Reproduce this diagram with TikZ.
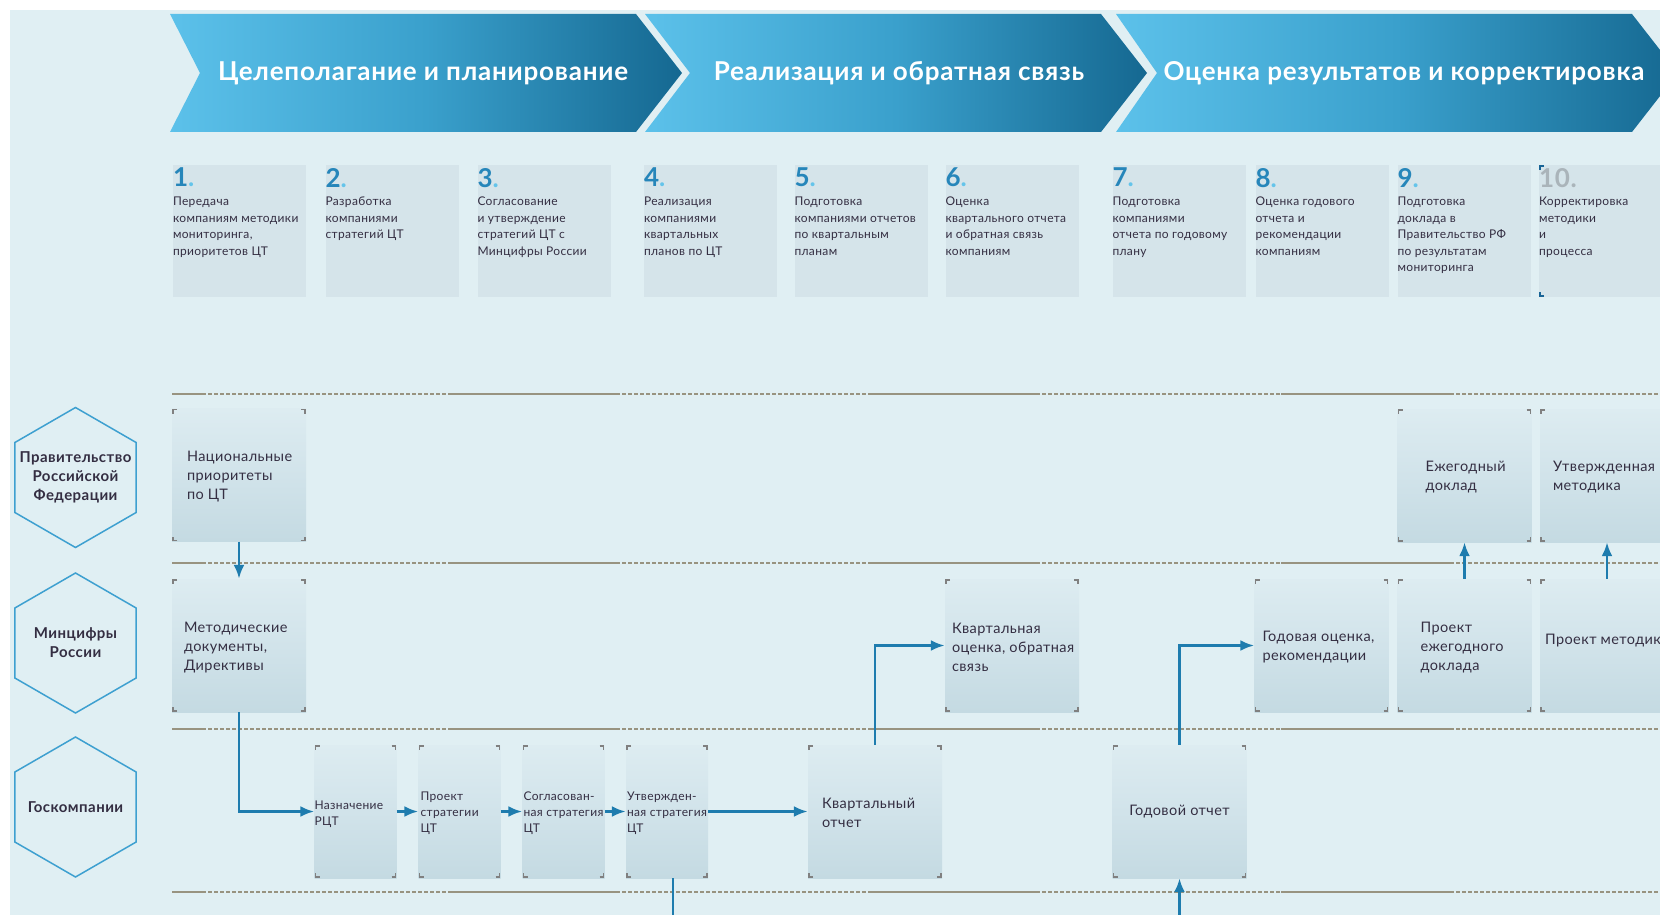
\documentclass[tikz,border=0pt]{standalone}
\usepackage{fontspec}
\setmainfont{Lato}[LetterSpace=3]
\usetikzlibrary{shapes.geometric,arrows.meta}
\definecolor{bgblue}{RGB}{224,239,243}
\definecolor{bannerlight}{RGB}{92,193,234}
\definecolor{bannermid}{RGB}{58,160,204}
\definecolor{bannerdark}{RGB}{21,104,145}
\definecolor{stepfill}{RGB}{213,228,234}
\definecolor{boxtop}{RGB}{221,236,241}
\definecolor{boxmid}{RGB}{209,227,234}
\definecolor{boxbottom}{RGB}{196,218,226}
\definecolor{ink}{RGB}{52,46,66}
\definecolor{numblue}{RGB}{38,134,186}
\definecolor{numdot}{RGB}{100,196,234}
\definecolor{numgray}{RGB}{170,180,186}
\definecolor{hexblue}{RGB}{62,160,208}
\definecolor{flowblue}{RGB}{30,124,174}
\definecolor{linegray}{RGB}{152,147,128}
\definecolor{markgray}{RGB}{128,128,128}
\definecolor{markblue}{RGB}{25,100,150}
\begin{document}
\begin{tikzpicture}
    [
    x=1pt,y=-1pt,
    banner/.style={left color=bannerlight,right color=bannerdark,middle color=bannermid},
    bannertext/.style={text=white,font=\bfseries\fontsize{26}{30}\selectfont},
    stepbox/.style={fill=stepfill,minimum width=133,minimum height=132,inner sep=0},
    stepnum/.style={anchor=north west,inner sep=0,yshift=-3,text=numblue,font=\bfseries\fontsize{26}{26}\selectfont},
    steptext/.style={anchor=north west,inner sep=0,yshift=-32,align=left,text=ink,font=\fontsize{12}{16.5}\selectfont},
    hexagon/.style={regular polygon,regular polygon sides=6,shape border rotate=30,minimum size=140,inner sep=0,draw=hexblue,line width=1.5},
    hextext/.style={anchor=center,align=center,text=ink,font=\bfseries\fontsize{15}{19}\selectfont},
    corners/.style={path picture={
      \draw [markgray,line width=1.2] ([xshift=5,yshift=-1]path picture bounding box.north west) -| ([xshift=1,yshift=-5]path picture bounding box.north west);
      \draw [markgray,line width=1.2] ([xshift=-5,yshift=-1]path picture bounding box.north east) -| ([xshift=-1,yshift=-5]path picture bounding box.north east);
      \draw [markgray,line width=1.2] ([xshift=5,yshift=1]path picture bounding box.south west) -| ([xshift=1,yshift=5]path picture bounding box.south west);
      \draw [markgray,line width=1.2] ([xshift=-5,yshift=1]path picture bounding box.south east) -| ([xshift=-1,yshift=5]path picture bounding box.south east);}},
    bluecorners/.style={path picture={
      \draw [markblue,line width=2.5] ([xshift=5,yshift=-1]path picture bounding box.north west) -| ([xshift=1,yshift=-5]path picture bounding box.north west);
      \draw [markblue,line width=2.5] ([xshift=5,yshift=1]path picture bounding box.south west) -| ([xshift=1,yshift=5]path picture bounding box.south west);}},
    lanebox/.style={top color=boxtop,bottom color=boxbottom,middle color=boxmid,minimum width=134,minimum height=133,inner sep=0,corners},
    smallbox/.style={lanebox,minimum width=82},
    boxtext/.style={anchor=west,inner sep=0,align=left,text=ink,font=\fontsize{14.5}{19}\selectfont},
    smalltext/.style={boxtext,font=\fontsize{12}{16}\selectfont},
    laneline/.style={draw=linegray,line width=1.5},
    flow/.style={draw=flowblue,line width=2.8,-{Latex[length=14pt,width=11pt]}},
    flowline/.style={draw=flowblue,line width=2.8}
    ]
    \useasboundingbox (0,0) rectangle (1660,915);
    \clip (0,0) rectangle (1660,915);
    \fill [bgblue] (10,10) rectangle (1660,915);
    % stages
    \shade [banner] (170,14) -- (636,14) -- (682,73) -- (636,132) -- (170,132) -- (200,73) -- cycle;
    \shade [banner] (645,14) -- (1101,14) -- (1147,73) -- (1101,132) -- (645,132) -- (690,73) -- cycle;
    \shade [banner] (1116,14) -- (1632,14) -- (1678,73) -- (1632,132) -- (1116,132) -- (1157,73) -- cycle;
    \node (T1) at (423,73) [bannertext] {Целеполагание и планирование};
    \node (T2) at (899,73) [bannertext] {Реализация и обратная связь};
    \node (T3) at (1404,73) [bannertext] {Оценка результатов и корректировка};
    % steps
    \node (S1) at (239.5,231) [stepbox,label={[stepnum]north west:{1\textcolor{numdot}{.}}},label={[steptext]north west:{Передача\\компаниям методики\\мониторинга,\\приоритетов ЦТ}}] {};
    \node (S2) at (392,231) [stepbox,label={[stepnum]north west:{2\textcolor{numdot}{.}}},label={[steptext]north west:{Разработка\\компаниями\\стратегий ЦТ}}] {};
    \node (S3) at (544,231) [stepbox,label={[stepnum]north west:{3\textcolor{numdot}{.}}},label={[steptext]north west:{Согласование\\и утверждение\\стратегий ЦТ с\\Минцифры России}}] {};
    \node (S4) at (710.5,231) [stepbox,label={[stepnum]north west:{4\textcolor{numdot}{.}}},label={[steptext]north west:{Реализация\\компаниями\\квартальных\\планов по ЦТ}}] {};
    \node (S5) at (861,231) [stepbox,label={[stepnum]north west:{5\textcolor{numdot}{.}}},label={[steptext]north west:{Подготовка\\компаниями отчетов\\по квартальным\\планам}}] {};
    \node (S6) at (1012,231) [stepbox,label={[stepnum]north west:{6\textcolor{numdot}{.}}},label={[steptext]north west:{Оценка\\квартального отчета\\и обратная связь\\компаниям}}] {};
    \node (S7) at (1179,231) [stepbox,label={[stepnum]north west:{7\textcolor{numdot}{.}}},label={[steptext]north west:{Подготовка\\компаниями\\отчета по годовому\\плану}}] {};
    \node (S8) at (1322,231) [stepbox,label={[stepnum]north west:{8\textcolor{numdot}{.}}},label={[steptext]north west:{Оценка годового\\отчета и\\рекомендации\\компаниям}}] {};
    \node (S9) at (1464,231) [stepbox,label={[stepnum]north west:{9\textcolor{numdot}{.}}},label={[steptext]north west:{Подготовка\\доклада в\\Правительство РФ\\по результатам\\мониторинга}}] {};
    \node (S10) at (1605.5,231) [stepbox,bluecorners,label={[stepnum,text=numgray]north west:{10.}},label={[steptext]north west:{Корректировка\\методики\\и\\процесса}}] {};
    % lanes
    \draw [laneline,dash pattern=on 4pt off 2pt] (172,394) -- (1660,394) (172,563) -- (1660,563) (172,729) -- (1660,729) (172,892) -- (1660,892);
    \draw [laneline] (172,394) -- (205,394) (450,394) -- (620,394) (868,394) -- (1037,394) (1281,394) -- (1450,394);
    \draw [laneline] (172,563) -- (205,563) (450,563) -- (620,563) (868,563) -- (1037,563) (1281,563) -- (1450,563);
    \draw [laneline] (172,729) -- (205,729) (450,729) -- (620,729) (868,729) -- (1037,729) (1281,729) -- (1450,729);
    \draw [laneline] (172,892) -- (205,892) (450,892) -- (620,892) (868,892) -- (1037,892) (1281,892) -- (1450,892);
    \node (H1) at (75.5,477.5) [hexagon,label={[hextext]center:{Правительство\\Российской\\Федерации}}] {};
    \node (H2) at (75.5,643) [hexagon,label={[hextext]center:{Минцифры\\России}}] {};
    \node (H3) at (75.5,807) [hexagon,label={[hextext]center:Госкомпании}] {};
    % government
    \node (P1) at (239,475) [lanebox,label={[boxtext,xshift=15,yshift=-2]west:{Национальные\\приоритеты\\по ЦТ}}] {};
    \node (P2) at (1464.5,475.5) [lanebox,label={[boxtext,xshift=28,yshift=-2]west:{Ежегодный\\доклад}}] {};
    \node (P3) at (1607,475.5) [lanebox,label={[boxtext,xshift=13,yshift=-2]west:{Утвержденная\\методика}}] {};
    % ministry
    \node (M1) at (239,645.5) [lanebox,label={[boxtext,xshift=12,yshift=-2]west:{Методические\\документы,\\Директивы}}] {};
    \node (M2) at (1012,645.5) [lanebox,label={[boxtext,xshift=7,yshift=-2]west:{Квартальная\\оценка, обратная\\связь}}] {};
    \node (M3) at (1321.5,645.5) [lanebox,label={[boxtext,xshift=8,yshift=-2]west:{Годовая оценка,\\рекомендации}}] {};
    \node (M4) at (1464.5,645.5) [lanebox,label={[boxtext,xshift=23,yshift=-2]west:{Проект\\ежегодного\\доклада}}] {};
    \node (M5) at (1607,645.5) [lanebox,label={[boxtext,xshift=5,yshift=5]west:{Проект методики}}] {};
    % companies
    \node (G1) at (355.5,811.5) [smallbox,label={[smalltext,yshift=-2.5]west:{Назначение\\РЦТ}}] {};
    \node (G2) at (459.5,811.5) [smallbox,label={[smalltext,xshift=2,yshift=-1.5]west:{Проект\\стратегии\\ЦТ}}] {};
    \node (G3) at (563.5,811.5) [smallbox,label={[smalltext,xshift=1,yshift=-1.5]west:{Согласован-\\ная стратегия\\ЦТ}}] {};
    \node (G4) at (667,811.5) [smallbox,label={[smalltext,xshift=1,yshift=-1.5]west:{Утвержден-\\ная стратегия\\ЦТ}}] {};
    \node (G5) at (875,811.5) [lanebox,label={[boxtext,xshift=14,yshift=-1]west:{Квартальный\\отчет}}] {};
    \node (G6) at (1179.5,811.5) [lanebox,font=\fontsize{14.5}{19}\selectfont,text=ink] {Годовой отчет};
    \coordinate (E1) at (673,920);
    \coordinate (E2) at (1179.5,920);
    \draw [flow] (P1) to (M1);
    \draw [flow] (M1.south) |- (G1);
    \draw [flow] (G1) to (G2);
    \draw [flow] (G2) to (G3);
    \draw [flow] (G3) to (G4);
    \draw [flow] (G4) to (G5);
    \draw [flowline] (G4.south -| E1) to (E1);
    \draw [flow] (G5.north) |- (M2);
    \draw [flow] (G6.north) |- (M3);
    \draw [flow] (E2) to (G6);
    \draw [flow] (M4) to (P2);
    \draw [flow] (M5) to (P3);
  \end{tikzpicture}
\end{document}
